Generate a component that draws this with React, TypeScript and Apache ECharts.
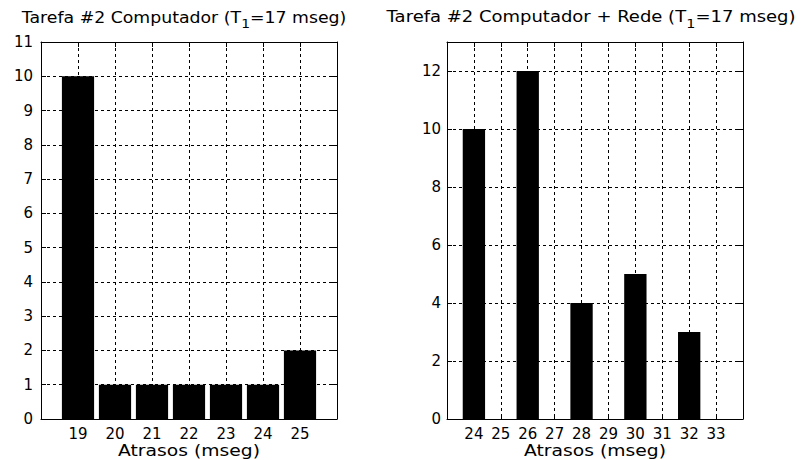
import React, { useEffect, useRef } from "react";
import * as echarts from "echarts";

// Left chart: Tarefa #2 Computador
const leftDelays = [19, 20, 21, 22, 23, 24, 25];
const leftCounts = [10, 1, 1, 1, 1, 1, 2];
// Right chart: Tarefa #2 Computador + Rede
const rightDelays = [24, 25, 26, 27, 28, 29, 30, 31, 32, 33];
const rightCounts = [10, 0, 12, 0, 4, 0, 5, 0, 3, 0];

const leftTitle = ["Tarefa #2 Computador (T", "1", "=17 mseg)"];
const rightTitle = ["Tarefa #2 Computador + Rede (T", "1", "=17 mseg)"];
const xName = "Atrasos (mseg)";

const LEFT_BAR_W = 0.87;
const RIGHT_BAR_W = 0.83;

const FONT = "DejaVu Sans";
const dash = [3, 3];

function barRender(w: number) {
  return (params: any, api: any) => {
    const x = api.value(0);
    const y = api.value(1);
    const p0 = api.coord([x - w / 2, y]);
    const p1 = api.coord([x + w / 2, 0]);
    return {
      type: "rect",
      shape: { x: p0[0], y: p0[1], width: p1[0] - p0[0], height: p1[1] - p0[1] },
      style: { fill: "#000" },
    };
  };
}

function xAxes(gridIndex: number, min: number, max: number) {
  const common = {
    type: "value",
    gridIndex,
    min,
    max,
    interval: 1,
    axisLine: { show: true, onZero: false, lineStyle: { color: "#000", width: 1 } },
    axisTick: { show: true, inside: true, length: 5, lineStyle: { color: "#000" } },
  };
  return [
    {
      ...common,
      position: "bottom",
      axisLabel: {
        show: true,
        margin: 7,
        showMinLabel: false,
        showMaxLabel: false,
        fontFamily: FONT,
        fontSize: 15,
        color: "#000",
      },
      splitLine: {
        show: true,
        showMinLine: false,
        showMaxLine: false,
        lineStyle: { color: "#000", type: dash, width: 1 },
      },
    },
    {
      ...common,
      position: "top",
      axisLabel: { show: false },
      splitLine: { show: false },
    },
  ];
}

function yAxes(gridIndex: number, max: number, interval: number, margin: number) {
  const common = {
    type: "value",
    gridIndex,
    min: 0,
    max,
    interval,
    axisLine: { show: true, onZero: false, lineStyle: { color: "#000", width: 1 } },
    axisTick: { show: true, inside: true, length: 5, lineStyle: { color: "#000" } },
  };
  return [
    {
      ...common,
      position: "left",
      axisLabel: {
        show: true,
        margin,
        showMaxLabel: max % interval === 0,
        fontFamily: FONT,
        fontSize: 15,
        color: "#000",
      },
      splitLine: {
        show: true,
        showMinLine: false,
        showMaxLine: false,
        lineStyle: { color: "#000", type: dash, width: 1 },
      },
    },
    {
      ...common,
      position: "right",
      axisLabel: { show: false },
      splitLine: { show: false },
    },
  ];
}

function titleText(parts: string[], x: number, sx: number) {
  return {
    type: "text",
    x,
    y: 10,
    scaleX: sx,
    style: {
      text: `{a|${parts[0]}}{s|${parts[1]}}{a|${parts[2]}}`,
      align: "center",
      verticalAlign: "top",
      fill: "#000",
      rich: {
        a: { fontFamily: FONT, fontSize: 15, fontWeight: "normal", fill: "#000", lineHeight: 20, verticalAlign: "top" },
        s: {
          fontFamily: FONT,
          fontSize: 12,
          fontWeight: "normal",
          fill: "#000",
          lineHeight: 12,
          verticalAlign: "bottom",
          padding: [10, 0, 0, 0],
        },
      },
    },
  };
}

function nameText(x: number) {
  return {
    type: "text",
    x,
    y: 443,
    scaleX: 1.25,
    style: {
      text: xName,
      fontFamily: FONT,
      fontSize: 15,
      fill: "#000",
      align: "center",
      verticalAlign: "top",
    },
  };
}

export default function App() {
  const ref = useRef<HTMLDivElement>(null);
  useEffect(() => {
    if (!ref.current) return;
    const chart = echarts.init(ref.current, null, { renderer: "svg" });
    const option: any = {
      animation: false,
      backgroundColor: "#fff",
      graphic: [
        titleText(leftTitle, 184, 1.155),
        titleText(rightTitle, 591, 1.2),
        nameText(189),
        nameText(595),
      ],
      grid: [
        { left: 41, top: 42, width: 296, height: 377, show: false },
        { left: 447, top: 42, width: 296, height: 377, show: false },
      ],
      xAxis: [...xAxes(0, 18, 26), ...xAxes(1, 23, 34)],
      yAxis: [...yAxes(0, 11, 1, 8), ...yAxes(1, 13, 2, 6)],
      series: [
        {
          type: "custom",
          xAxisIndex: 0,
          yAxisIndex: 0,
          renderItem: barRender(LEFT_BAR_W),
          data: leftDelays.map((d, i) => [d, leftCounts[i]]),
          z: 5,
        },
        {
          type: "custom",
          xAxisIndex: 2,
          yAxisIndex: 2,
          renderItem: barRender(RIGHT_BAR_W),
          data: rightDelays.map((d, i) => [d, rightCounts[i]]),
          z: 5,
        },
      ],
    };
    chart.setOption(option);
    return () => chart.dispose();
  }, []);
  return <div ref={ref} style={{ width: 803, height: 460, position: "absolute", left: 0, top: 0 }} />;
}
